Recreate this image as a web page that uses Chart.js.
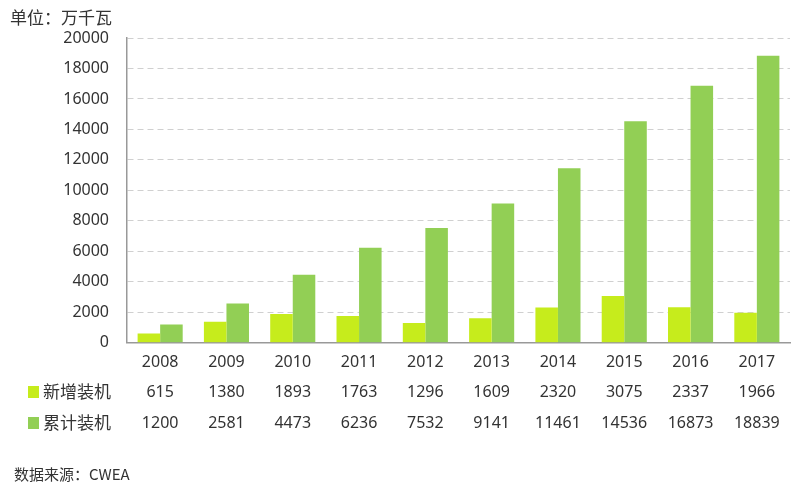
<!DOCTYPE html>
<html><head><meta charset="utf-8">
<script src="https://cdn.jsdelivr.net/npm/chart.js@4"></script>
<style>html,body{margin:0;padding:0;background:#fff}#w{width:800px;height:492px}</style>
</head><body><div id="w"><canvas id="c"></canvas></div>
<script>
const years = ['2008','2009','2010','2011','2012','2013','2014','2015','2016','2017'];
const newInstalled = [615,1380,1893,1763,1296,1609,2320,3075,2337,1966];
const cumulative = [1200,2581,4473,6236,7532,9141,11461,14536,16873,18839];
const seriesNames = ['新增装机','累计装机'];
const colors = ['#c6ec1c','#92cf55'];
const FONT = '"Noto Sans", "Noto Sans CJK SC", sans-serif';

const tablePlugin = {
  id:'table',
  afterDraw(chart){
    const ctx = chart.ctx, x = chart.scales.x;
    ctx.save();
    ctx.fillStyle = '#333';
    ctx.font = '17px "Noto Sans CJK SC"';
    ctx.textBaseline = 'middle';
    ctx.textAlign = 'left';
    ctx.fillText('单位：万千瓦', 10, 18);
    ctx.font = '15px "Noto Sans CJK SC"';
    ctx.fillText('数据来源：CWEA', 14, 474);
    const rows = [newInstalled, cumulative];
    const ys = [392, 423];
    rows.forEach((r,i)=>{
      ctx.fillStyle = colors[i];
      ctx.fillRect(28, ys[i]-6, 11, 12);
      ctx.fillStyle = '#333';
      ctx.textAlign = 'left';
      ctx.font = '17px "Noto Sans CJK SC"';
      ctx.fillText(seriesNames[i], 43, ys[i]);
      ctx.textAlign = 'center';
      ctx.font = '16px ' + FONT;
      r.forEach((v,j)=>ctx.fillText(String(v), x.getPixelForValue(j), ys[i]));
    });
    ctx.restore();
  }
};

new Chart(document.getElementById('c'), {
  type:'bar',
  data:{labels:years, datasets:[
    {label:seriesNames[0], data:newInstalled, backgroundColor:colors[0]},
    {label:seriesNames[1], data:cumulative, backgroundColor:colors[1]}
  ]},
  options:{
    responsive:true, maintainAspectRatio:false, animation:false,
    layout:{padding:{top:38,bottom:118,right:10,left:0}},
    plugins:{legend:{display:false},tooltip:{enabled:false}},
    datasets:{bar:{categoryPercentage:0.68,barPercentage:1}},
    scales:{
      x:{grid:{display:false},border:{color:'#999',width:1.5},
         ticks:{color:'#333',font:{size:16,family:FONT},padding:2}},
      y:{min:0,max:20000,
         ticks:{stepSize:2000,color:'#333',font:{size:16,family:FONT},padding:18,callback:v=>String(v)},
         grid:{color:'#d0d0d0',drawTicks:false},
         border:{color:'#999',width:1.5,dash:[6,4]},
         afterFit(s){s.width=127;}}
    }
  },
  plugins:[tablePlugin]
});
</script></body></html>
